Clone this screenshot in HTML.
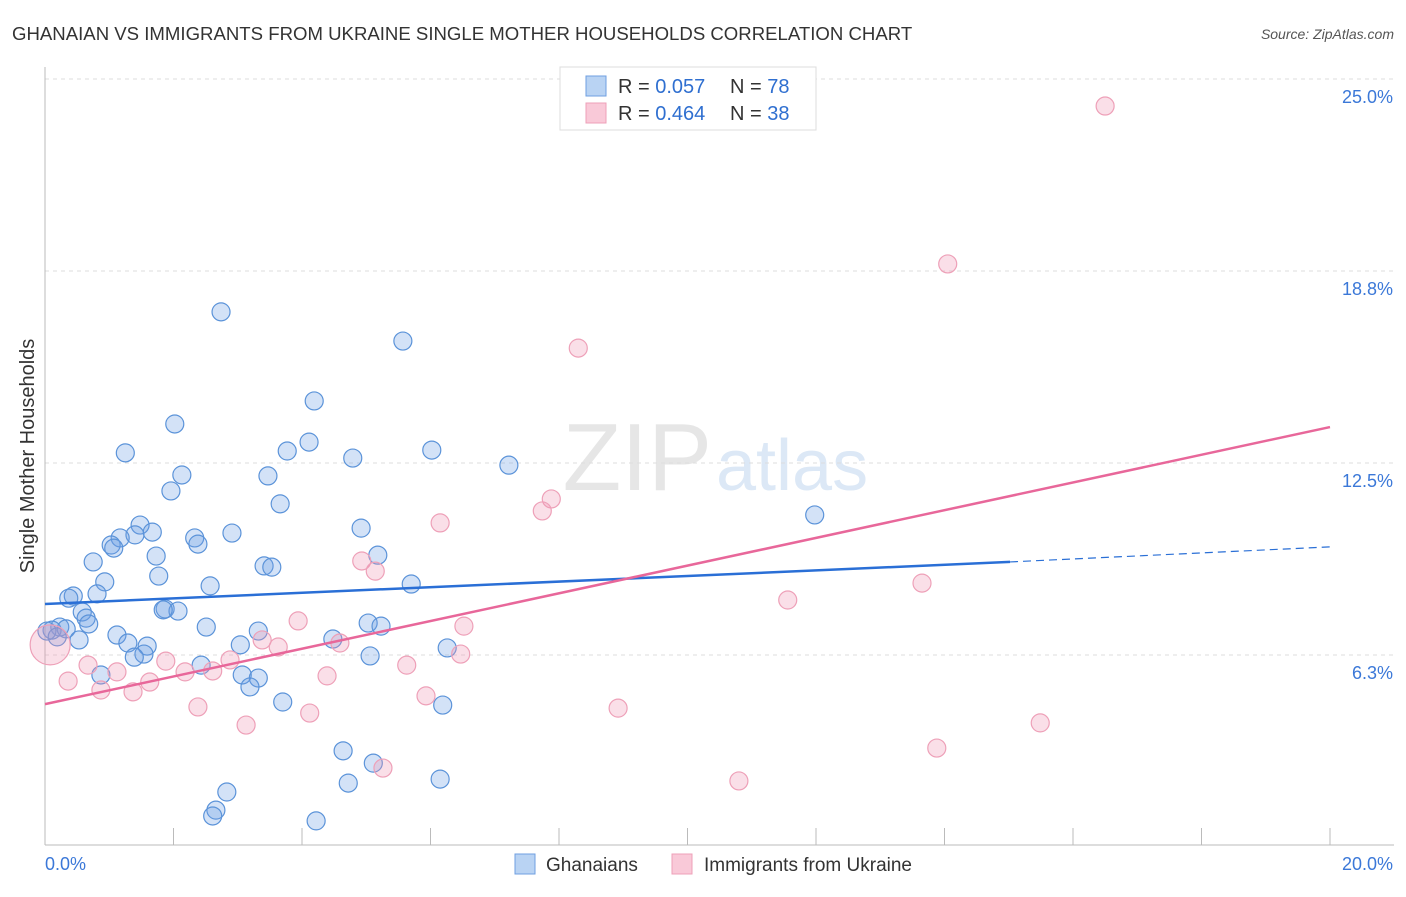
<!DOCTYPE html>
<html><head><meta charset="utf-8"><style>
body{margin:0;background:#fff;font-family:"Liberation Sans",sans-serif;}
svg text{font-family:"Liberation Sans",sans-serif;}
</style></head><body>
<svg id="chart" width="1406" height="892" viewBox="0 0 1406 892" xmlns="http://www.w3.org/2000/svg">
<text x="12" y="40" font-size="18.6" fill="#333">GHANAIAN VS IMMIGRANTS FROM UKRAINE SINGLE MOTHER HOUSEHOLDS CORRELATION CHART</text>
<text x="1394" y="39" font-size="14" fill="#555" text-anchor="end" font-style="italic">Source: ZipAtlas.com</text>
<text x="712" y="490" font-size="96" fill="#e6e6e6" text-anchor="end" font-family="Liberation Serif">ZIP</text>
<text x="716" y="490" font-size="72" fill="#dce8f6">atlas</text>
<g id="grid"></g>
<g id="axes"></g>
<g id="marks"></g>
<g id="trends"></g>
<text transform="translate(34,456) rotate(-90)" font-size="20" fill="#333" text-anchor="middle">Single Mother Households</text>
<g>
<rect x="560" y="67" width="256" height="63" fill="#fff" stroke="#ddd"/>
<rect x="586" y="76" width="20" height="20" fill="#b9d3f3" stroke="#6f9fe0"/>
<rect x="586" y="103" width="20" height="20" fill="#f9c9d8" stroke="#eea0b8"/>
<text x="618" y="93" font-size="20" fill="#333">R = <tspan fill="#2f6fd0">0.057</tspan></text>
<text x="730" y="93" font-size="20" fill="#333">N = <tspan fill="#2f6fd0">78</tspan></text>
<text x="618" y="120" font-size="20" fill="#333">R = <tspan fill="#2f6fd0">0.464</tspan></text>
<text x="730" y="120" font-size="20" fill="#333">N = <tspan fill="#2f6fd0">38</tspan></text>
</g>
<g>
<rect x="515" y="854" width="20" height="20" fill="#b9d3f3" stroke="#6f9fe0"/>
<text x="546" y="871" font-size="19" fill="#333">Ghanaians</text>
<rect x="672" y="854" width="20" height="20" fill="#f9c9d8" stroke="#eea0b8"/>
<text x="704" y="871" font-size="19" fill="#333">Immigrants from Ukraine</text>
</g>
</svg>
<script>
const yTicks=[6.25,12.5,18.75,25];
const yTickLabels=["6.3%","12.5%","18.8%","25.0%"];
const xTickLabels=["0.0%","20.0%"];
const blueX=[2.74,5.57,2.02,4.19,1.25,4.11,3.77,4.79,6.02,7.22,2.13,3.47,1.96,3.66,11.98,1.48,1.67,1.40,2.91,4.92,2.33,1.17,1.03,1.07,2.38,5.18,1.73,0.75,3.41,3.53,1.77,0.93,5.70,2.57,0.44,0.81,0.58,1.87,2.07,0.64,0.68,5.03,5.23,2.51,3.32,0.23,0.11,0.33,0.03,0.19,0.53,1.12,1.29,1.59,1.54,1.39,3.04,4.48,6.26,5.06,2.43,0.87,3.07,3.32,3.19,3.70,6.19,4.64,5.11,4.72,6.15,2.83,2.66,2.61,4.22,1.84,0.37];
const blueY=[17.42,16.47,13.77,14.52,12.83,13.18,12.89,12.66,12.92,12.43,12.11,12.08,11.59,11.17,10.81,10.48,10.25,10.16,10.22,10.38,10.06,10.06,9.83,9.73,9.86,9.5,9.47,9.28,9.15,9.11,8.82,8.63,8.56,8.5,8.17,8.24,7.65,7.75,7.68,7.45,7.26,7.29,7.19,7.16,7.03,7.16,7.06,7.1,7.03,6.84,6.74,6.9,6.64,6.54,6.28,6.18,6.58,6.77,6.48,6.22,5.92,5.6,5.6,5.5,5.21,4.72,4.62,3.13,2.73,2.08,2.21,1.79,1.2,1.01,0.85,7.72,8.1];
const pinkX=[16.5,14.05,8.30,7.88,7.74,6.15,4.93,5.14,13.65,11.56,3.94,6.52,3.38,4.59,3.63,6.47,0.67,2.88,1.88,1.12,2.18,2.61,5.63,4.39,0.36,1.63,0.87,1.37,5.93,2.38,4.12,8.92,3.13,15.49,13.88,5.26,10.80,0.08];
const pinkY=[24.12,18.98,16.24,11.33,10.94,10.55,9.31,8.98,8.59,8.04,7.36,7.19,6.74,6.64,6.51,6.28,5.92,6.09,6.05,5.70,5.70,5.73,5.92,5.57,5.40,5.37,5.11,5.05,4.92,4.56,4.36,4.52,3.97,4.04,3.22,2.57,2.15,6.58];
const blueTrend=[7.91,9.28,9.77];
const blueTrendX=[0,15.02,20];
const pinkTrend=[4.65,13.67];
const pinkTrendX=[0,20];

const NS="http://www.w3.org/2000/svg";
function X(v){return 45+v*64.25;}
function Y(v){return 655-(v-6.25)*30.72;}
function mk(tag,attrs,parent){const e=document.createElementNS(NS,tag);for(const k in attrs)e.setAttribute(k,attrs[k]);document.getElementById(parent).appendChild(e);return e;}

yTicks.forEach((t,i)=>{
  const l=mk('line',{x1:45,x2:1394,y1:Y(t),y2:Y(t),stroke:'#ddd','stroke-dasharray':'4,4'},'grid');
  
  
  const tx=mk('text',{x:1393,y:Y(t)+24,'font-size':18,fill:'#3b78d8','text-anchor':'end'},'grid');
  tx.textContent=yTickLabels[i];
  
  
});
const ax=mk('line',{x1:45,x2:45,y1:67,y2:845,stroke:'#bbb'},'axes');


const bx=mk('line',{x1:45,x2:1394,y1:845,y2:845,stroke:'#bbb'},'axes');


for(let i=0;i<=10;i++){
  const t=mk('line',{x1:X(i*2),x2:X(i*2),y1:828,y2:845,stroke:'#bbb'},'axes');
  
  
}
const xl0=mk('text',{x:45,y:870,'font-size':18,fill:'#3b78d8'},'axes');
xl0.textContent=xTickLabels[0];


const xl1=mk('text',{x:1393,y:870,'font-size':18,fill:'#3b78d8','text-anchor':'end'},'axes');
xl1.textContent=xTickLabels[1];



blueX.forEach((v,i)=>{
  const c=mk('circle',{cx:X(v),cy:Y(blueY[i]),r:9,fill:'rgba(110,160,230,0.3)',stroke:'#5b93d9','stroke-width':1.2},'marks');
  
  
});
pinkX.forEach((v,i)=>{
  const c=mk('circle',{cx:X(v),cy:Y(pinkY[i]),r:i===pinkX.length-1?20:9,fill:'rgba(240,150,180,0.3)',stroke:'#eea0b8','stroke-width':1.2},'marks');
  
  
});
const bl=mk('line',{x1:X(blueTrendX[0]),y1:Y(blueTrend[0]),x2:X(blueTrendX[1]),y2:Y(blueTrend[1]),stroke:'#2a6fd6','stroke-width':2.5},'trends');


const bd=mk('line',{x1:X(blueTrendX[1]),y1:Y(blueTrend[1]),x2:X(blueTrendX[2]),y2:Y(blueTrend[2]),stroke:'#2a6fd6','stroke-width':1.2,'stroke-dasharray':'8,5'},'trends');


const pl=mk('line',{x1:X(pinkTrendX[0]),y1:Y(pinkTrend[0]),x2:X(pinkTrendX[1]),y2:Y(pinkTrend[1]),stroke:'#e8679a','stroke-width':2.5},'trends');


</script>
</body></html>
